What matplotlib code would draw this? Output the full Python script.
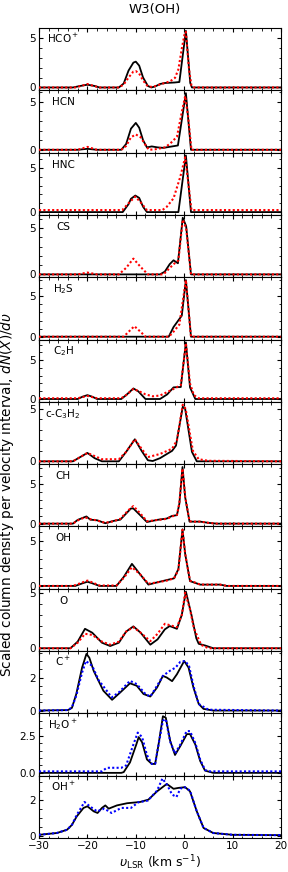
import matplotlib
matplotlib.use("Agg")
import matplotlib.pyplot as plt
from matplotlib.ticker import MaxNLocator, AutoMinorLocator, MultipleLocator

plt.rcParams['font.family'] = ['DejaVu Sans']
plt.rcParams['mathtext.fontset'] = 'dejavusans'

# ---------------- data (velocity in km/s, scaled column density) ----------------
species = ["HCO$^+$", "HCN", "HNC", "CS", "H$_2$S", "C$_2$H", "c-C$_3$H$_2$",
           "CH", "OH", "O", "C$^+$", "H$_2$O$^+$", "OH$^+$"]

hco_vb = [-30, -23, -21.5, -20, -18.5, -17.5, -13.5, -12.5, -11.5, -10.5, -10, -9.3, -8.5, -7.5, -6.8, -6, -5, -4, -2, -1, 0.35, 1.25, 1.6, 20]
hco_b = [0, 0, 0.15, 0.28, 0.15, 0, 0, 0.4, 1.7, 2.5, 2.6, 2.2, 1.0, 0.15, 0, 0.1, 0.35, 0.45, 0.5, 0.55, 5.7, 0.45, 0, 0]
hco_vm = [-30, -22.5, -21, -20, -19, -17.5, -13.5, -12.5, -11.5, -10.5, -10, -9.3, -8.5, -7.5, -6.5, -5, -4, -2.9, -1.9, -1.2, -0.5, 0.05, 0.35, 0.6, 1.0, 1.5, 2, 20]
hco_m = [0, 0, 0.2, 0.35, 0.2, 0, 0, 0.3, 1.0, 1.6, 1.65, 1.4, 0.7, 0.1, 0.05, 0.3, 0.45, 0.62, 0.97, 1.83, 3.9, 5.3, 5.6, 4.1, 1.8, 0.2, 0, 0]

hcn_vb = [-30, -22, -20, -18, -13, -12, -11, -10, -9.3, -8.5, -7.7, -6.7, -5.5, -4.3, -2.5, -1.3, 0.35, 1.4, 20]
hcn_b = [0, 0, 0.1, 0, 0, 0.6, 2.2, 2.8, 2.3, 1.0, 0.25, 0.35, 0.25, 0.2, 0.35, 0.45, 5.9, 0, 0]
hcn_vm = [-30, -22, -20, -18, -13, -12, -11, -10, -9, -8, -7.3, -6, -4, -2.9, -1.5, -0.5, 0.2, 0.8, 1.5, 20]
hcn_m = [0, 0, 0.3, 0, 0, 0.4, 1.3, 1.6, 1.3, 0.5, 0, 0.05, 0.25, 0.64, 1.36, 3.9, 5.6, 3.5, 0, 0]

hnc_vb = [-30, -12.7, -11.5, -11, -10.1, -9.3, -8.5, -7.7, -1.2, 0.35, 1.4, 20]
hnc_b = [0, 0, 0.9, 1.5, 1.87, 1.6, 0.6, 0, 0, 6.4, 0, 0]
hnc_vm = [-30, -12.8, -11.5, -10.1, -9, -7.7, -4.5, -3.6, -2.2, -0.8, 0.2, 0.8, 1.5, 20]
hnc_m = [0.23, 0.23, 1.0, 1.75, 1.1, 0.23, 0.23, 0.6, 1.56, 4.0, 6.2, 3.5, 0.23, 0.23]

cs_vb = [-30, -5, -4, -3, -2.2, -1.3, -0.3, 0.4, 1.4, 20]
cs_b = [0, 0, 0.3, 1.1, 1.52, 1.2, 6.1, 5.2, 0, 0]
cs_vm = [-30, -22, -20, -18, -13.5, -12, -10.5, -9, -7.5, -4.3, -2.2, -1.2, -0.3, 0.4, 1.4, 20]
cs_m = [0, 0, 0.2, 0, 0, 0.7, 1.7, 0.8, 0, 0, 1.1, 1.5, 5.9, 5.0, 0, 0]

h2s_vb = [-30, -3.2, -2.2, -0.5, 0.35, 1.4, 20]
h2s_b = [0, 0, 1.2, 2.6, 7.0, 0, 0]
h2s_vm = [-30, -12.5, -11.5, -10.3, -9, -8, -3.2, -2.5, -1, 0.35, 1.4, 20]
h2s_m = [0, 0, 0.6, 1.3, 0.6, 0, 0, 0.4, 1.5, 7.0, 0, 0]

c2h_vb = [-30, -22, -21, -20, -19, -18, -13, -12, -10.5, -9.5, -8, -5, -3.5, -2.2, -0.7, 0.35, 1.2, 2.3, 20]
c2h_b = [0, 0, 0.3, 0.5, 0.3, 0, 0, 0.5, 1.36, 1.0, 0, 0, 0.6, 1.5, 1.55, 7.3, 1.5, 0, 0]
c2h_vm = [-30, -22, -20, -18, -13, -12, -10.5, -9, -8, -6.5, -5, -2.5, -0.7, 0.35, 1.2, 2, 3, 20]
c2h_m = [0.1, 0.1, 0.4, 0.1, 0.1, 0.5, 1.3, 0.9, 0.6, 0.35, 0.45, 1.2, 1.8, 7.2, 2.0, 0.5, 0.1, 0.1]

cc3h2_vb = [-30, -23, -21.5, -20, -18.5, -17, -13.5, -12, -10.2, -8.8, -7.5, -6.5, -5, -2.5, -1.7, -0.3, 0.2, 1.6, 2.6, 20]
cc3h2_b = [0, 0, 0.4, 0.8, 0.3, 0, 0, 0.9, 2.1, 1.0, 0.1, 0.03, 0.3, 1.0, 1.5, 5.2, 5.0, 0.9, 0, 0]
cc3h2_vm = [-30, -23, -21.5, -20, -18.5, -17, -13.5, -12, -10.2, -8.8, -7.5, -5, -2.5, -1.5, -0.3, 0.3, 1.8, 3, 5, 20]
cc3h2_m = [0, 0, 0.4, 0.8, 0.5, 0.2, 0.2, 0.9, 2.1, 1.2, 0.4, 0.7, 1.2, 2.0, 5.4, 5.0, 1.0, 0.2, 0.05, 0]

ch_vb = [-30, -23, -22, -20.8, -20.2, -19.4, -18, -16.3, -14.6, -13.2, -11, -10.5, -9.1, -7.7, -5.6, -3.6, -2.5, -1.5, -1, -0.35, 0.2, 1.1, 1.9, 3.3, 5, 6.7, 20]
ch_b = [0, 0, 0.47, 0.76, 0.9, 0.5, 0.42, 0.05, 0.34, 0.5, 1.9, 1.9, 1.06, 0.2, 0.47, 0.64, 0.97, 1.06, 2.5, 7.1, 3.3, 0.25, 0.25, 0.25, 0.1, 0, 0]
ch_vm = [-30, -23, -22, -20.5, -19.4, -18, -16.3, -14.6, -13.2, -11.5, -10.5, -9.1, -7.7, -5.6, -3.6, -2.5, -1.5, -1, -0.35, 0.2, 1.1, 1.9, 3.3, 5, 6.7, 20]
ch_m = [0, 0, 0.4, 0.8, 0.55, 0.4, 0.1, 0.3, 0.6, 1.7, 2.2, 1.3, 0.3, 0.45, 0.6, 0.9, 1.1, 2.6, 6.9, 3.4, 0.3, 0.25, 0.25, 0.1, 0, 0]

oh_vb = [-30, -22.5, -21, -20, -19, -17.5, -14, -12.5, -10.8, -9.1, -7.4, -5.6, -3.6, -2.1, -1.2, -0.35, 0.2, 1.2, 3.3, 7.4, 8.8, 20]
oh_b = [0, 0, 0.3, 0.47, 0.3, 0, 0, 1.0, 2.48, 1.3, 0.15, 0.4, 0.66, 0.85, 1.9, 6.36, 3.6, 0.54, 0.15, 0.15, 0, 0]
oh_vm = [-30, -23, -21, -20, -19, -17.5, -14, -12.5, -10.8, -9.1, -7.4, -5.6, -3.6, -2.1, -1.2, -0.35, 0.2, 1.2, 3.3, 7.4, 8.8, 20]
oh_m = [0, 0, 0.4, 0.6, 0.4, 0.05, 0.05, 0.9, 2.1, 1.3, 0.25, 0.4, 0.6, 0.85, 1.8, 6.3, 3.6, 0.6, 0.15, 0.15, 0, 0]

o_vb = [-30, -23.5, -22, -20.5, -19, -17, -15.3, -13.5, -12, -10.5, -9, -7, -5.5, -4, -3, -1.5, -0.5, 0.35, 1.5, 2.5, 3, 4.3, 6, 20]
o_b = [0, 0, 0.6, 1.75, 1.4, 0.5, 0.2, 0.5, 1.5, 1.97, 1.4, 0.32, 0.8, 1.7, 2.0, 1.75, 3.0, 5.1, 3.0, 0.9, 0.4, 0.25, 0, 0]
o_vm = [-30, -23.5, -22, -20.5, -19, -17, -15.3, -13.5, -12, -10.5, -9, -7, -5.5, -4, -1.5, -0.5, 0.2, 1.2, 2, 3.5, 5, 20]
o_m = [0, 0, 0.5, 1.3, 1.2, 0.6, 0.32, 0.6, 1.5, 1.9, 1.4, 0.64, 1.3, 2.2, 1.9, 3.0, 5.0, 3.5, 1.8, 0.3, 0, 0]

cp_vb = [-30, -24, -23.2, -22.3, -21.1, -20.2, -19.6, -18.7, -17.7, -16.7, -14.9, -13.2, -11.2, -9.8, -8.4, -7, -5.6, -4.4, -3.6, -2.5, -1.5, 0, 0.9, 1.9, 3, 4, 6, 20]
cp_b = [0, 0.03, 0.16, 1.0, 2.6, 3.43, 3.2, 2.4, 1.8, 1.2, 0.65, 1.1, 1.65, 1.5, 1.0, 0.85, 1.4, 2.1, 2.0, 1.78, 2.2, 3.0, 2.6, 1.4, 0.4, 0.1, 0, 0]
cp_vm = [-30, -24, -23.2, -22.3, -21.1, -20.3, -19, -17.7, -16, -15, -13.5, -11.2, -9.8, -8, -7, -5.6, -4.4, -3, -1.8, -0.8, 0.2, 1, 2, 3, 5, 20]
cp_m = [0, 0.03, 0.2, 0.9, 2.3, 3.0, 2.7, 1.85, 1.2, 0.8, 1.1, 1.8, 1.6, 1.0, 0.85, 1.5, 2.1, 2.4, 2.6, 2.95, 3.0, 2.7, 1.4, 0.4, 0.05, 0]

h2op_vb = [-30, -13, -12.5, -11.2, -9.9, -9.4, -8.7, -7.7, -6.7, -6, -5.3, -4.4, -3.8, -2.9, -1.9, -0.8, 0.55, 1.2, 2.3, 3.3, 4.3, 6, 20]
h2op_b = [0, 0, 0.05, 0.7, 1.9, 2.4, 2.05, 0.9, 0.6, 0.6, 1.9, 3.8, 3.7, 2.15, 1.2, 1.8, 2.6, 2.6, 1.9, 0.8, 0.15, 0, 0]
h2op_vm = [-30, -17, -16, -13, -12, -10.5, -9.6, -8.7, -7.7, -6.7, -6, -5.3, -4.4, -3.8, -2.9, -1.9, -0.8, 0.5, 1.2, 2.3, 3.3, 4.3, 5, 20]
h2op_m = [0.1, 0.1, 0.34, 0.34, 0.5, 1.9, 2.7, 2.4, 1.2, 0.6, 0.6, 1.9, 3.5, 3.6, 2.1, 1.3, 1.9, 2.8, 2.8, 2.0, 0.9, 0.2, 0.1, 0.1]

ohp_vb = [-30, -26.3, -24.2, -23.2, -22.2, -20.8, -20, -18.7, -17.9, -17, -16.3, -15.6, -13.9, -11.8, -9.1, -7.4, -5.6, -3.6, -2.2, -1.2, 0.2, 1.2, 2.6, 4, 6, 10, 20]
ohp_b = [0.05, 0.15, 0.33, 0.6, 1.07, 1.54, 1.63, 1.35, 1.26, 1.54, 1.68, 1.5, 1.68, 1.8, 1.87, 2.0, 2.46, 2.87, 2.6, 2.65, 2.69, 2.46, 1.35, 0.43, 0.15, 0.05, 0.03]
ohp_vm = [-30, -26.3, -24.2, -23.2, -22.2, -20.6, -19.5, -18, -16.5, -15, -13, -11, -9.5, -7.5, -5.6, -4.5, -3.5, -2.5, -1.6, -0.8, 0, 1.2, 2.6, 4, 6, 10, 20]
ohp_m = [0.05, 0.15, 0.33, 0.6, 1.15, 1.87, 1.63, 1.35, 1.5, 1.26, 1.54, 1.54, 1.85, 1.95, 2.5, 3.17, 2.8, 2.28, 2.15, 2.6, 2.7, 2.5, 1.35, 0.43, 0.15, 0.05, 0.03]

black_v = [hco_vb, hcn_vb, hnc_vb, cs_vb, h2s_vb, c2h_vb, cc3h2_vb, ch_vb, oh_vb, o_vb, cp_vb, h2op_vb, ohp_vb]
black_y = [hco_b, hcn_b, hnc_b, cs_b, h2s_b, c2h_b, cc3h2_b, ch_b, oh_b, o_b, cp_b, h2op_b, ohp_b]
model_v = [hco_vm, hcn_vm, hnc_vm, cs_vm, h2s_vm, c2h_vm, cc3h2_vm, ch_vm, oh_vm, o_vm, cp_vm, h2op_vm, ohp_vm]
model_y = [hco_m, hcn_m, hnc_m, cs_m, h2s_m, c2h_m, cc3h2_m, ch_m, oh_m, o_m, cp_m, h2op_m, ohp_m]
model_colors = ["red"] * 10 + ["blue"] * 3

x_ticks = [-30, -20, -10, 0, 10, 20]

# ---------------- figure ----------------
W, H = 288, 872
fig, axes = plt.subplots(13, 1, figsize=(W / 100, H / 100), dpi=100, sharex=True)
fig.subplots_adjust(left=39 / W, right=281 / W, top=1 - 28 / H, bottom=1 - 838 / H, hspace=0)

for i, ax in enumerate(axes):
    ax.plot(black_v[i], black_y[i], color="black", lw=1.3, solid_joinstyle="round", zorder=3)
    ax.plot(model_v[i], model_y[i], color=model_colors[i], lw=1.5,
            linestyle=(0, (1, 1.1)), zorder=4)
    ax.set_xlim(-30, 20)
    ax.margins(y=0.05)
    ax.yaxis.set_major_locator(MaxNLocator(nbins=2, steps=[1, 2, 2.5, 5, 10]))
    ax.yaxis.set_minor_locator(AutoMinorLocator())
    ax.xaxis.set_major_locator(MultipleLocator(10))
    ax.xaxis.set_minor_locator(MultipleLocator(2))
    ax.tick_params(which="both", direction="in", top=True, right=True, labelsize=7.5, pad=2.5)
    ax.tick_params(which="major", length=3.2, width=0.8)
    ax.tick_params(which="minor", length=1.8, width=0.6)
    ax.text(-25, 0.76, species[i], transform=ax.get_xaxis_transform(),
            ha="center", va="baseline", fontsize=7.5)
    if i < 12:
        ax.tick_params(labelbottom=False)

axes[-1].set_xticks(x_ticks)
axes[-1].set_xlabel(r"$\upsilon_{\rm LSR}$ (km s$^{-1}$)", fontsize=9, labelpad=1)

fig.text(155 / W, 1 - 9 / H, "W3(OH)", ha="center", va="center", fontsize=9.5)
fig.text(7.5 / W, 1 - 494.5 / H, r"Scaled column density per velocity interval, $dN(X)/d\upsilon$",
         rotation=90, ha="center", va="center", fontsize=9.8)

fig.savefig("out.png", dpi=100)
